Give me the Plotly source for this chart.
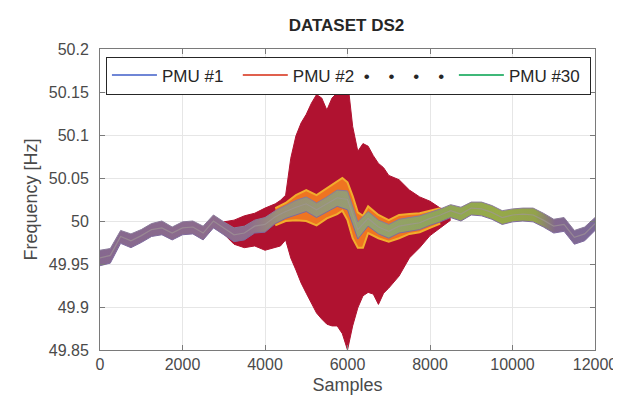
import plotly.graph_objects as go

# ---- data ----
samples = [0, 250, 500, 750, 1000, 1250, 1500, 1750, 2000, 2250, 2500, 2750,
           3000, 3250, 3500, 3750, 4000, 4250, 4500, 4750, 5000, 5250, 5500, 5750,
           6000, 6250, 6500, 6750, 7000, 7250, 7500, 7750, 8000, 8250, 8500, 8750,
           9000, 9250, 9500, 9750, 10000, 10250, 10500, 10750, 11000, 11250, 11500,
           11750, 12000]

# centre of the bundle of the 28 "quiet" PMUs
bundle_mid = [49.957, 49.960, 49.982, 49.977, 49.983, 49.990, 49.992, 49.986, 49.992,
              49.993, 49.986, 50.000, 49.992, 49.984, 49.986, 49.994, 49.996, 50.005,
              50.011, 50.016, 50.020, 50.013, 50.020, 50.027, 50.025, 49.990, 50.003,
              49.993, 49.988, 49.994, 49.996, 49.998, 50.003, 50.007, 50.012, 50.008,
              50.015, 50.014, 50.010, 50.004, 50.007, 50.008, 50.007, 50.001, 49.994,
              49.996, 49.981, 49.985, 49.997]
bundle_hi = [49.966, 49.968, 49.989, 49.985, 49.990, 49.997, 50.000, 49.993, 49.999,
             50.000, 49.994, 50.007, 49.999, 49.992, 49.994, 50.001, 50.004, 50.012,
             50.018, 50.024, 50.028, 50.021, 50.028, 50.036, 50.035, 49.999, 50.011,
             50.001, 49.996, 50.002, 50.004, 50.006, 50.010, 50.014, 50.019, 50.016,
             50.022, 50.022, 50.018, 50.012, 50.014, 50.015, 50.015, 50.009, 50.002,
             50.004, 49.989, 49.993, 50.004]
bundle_lo = [49.948, 49.951, 49.974, 49.969, 49.975, 49.982, 49.984, 49.978, 49.984,
             49.985, 49.978, 49.992, 49.984, 49.976, 49.978, 49.986, 49.987, 49.997,
             50.003, 50.007, 50.011, 50.004, 50.011, 50.017, 50.013, 49.979, 49.994,
             49.985, 49.980, 49.986, 49.988, 49.990, 49.995, 49.999, 50.004, 50.000,
             50.007, 50.006, 50.002, 49.996, 49.999, 50.000, 49.999, 49.993, 49.986,
             49.988, 49.973, 49.977, 49.989]

# PMU #2: strongly oscillating channel, drawn as its envelope
red_samples = [3000, 3250, 3500, 3750, 4000, 4250, 4375, 4500, 4625, 4750, 4875, 5000,
               5125, 5250, 5375, 5500, 5625, 5750, 5875, 6000, 6125, 6250, 6375, 6500,
               6625, 6750, 6875, 7000, 7250, 7500, 7750, 8000, 8250, 8500]
red_hi = [49.999, 50.001, 50.006, 50.009, 50.015, 50.020, 50.024, 50.030, 50.073, 50.099,
          50.114, 50.124, 50.137, 50.147, 50.143, 50.129, 50.143, 50.149, 50.157, 50.164,
          50.110, 50.081, 50.090, 50.087, 50.076, 50.067, 50.062, 50.053, 50.048, 50.036,
          50.028, 50.023, 50.015, 50.012]
red_lo = [49.985, 49.973, 49.969, 49.971, 49.966, 49.969, 49.971, 49.978, 49.957, 49.943,
          49.928, 49.916, 49.905, 49.893, 49.886, 49.880, 49.878, 49.878, 49.869, 49.850,
          49.878, 49.899, 49.913, 49.917, 49.915, 49.903, 49.916, 49.922, 49.936, 49.957,
          49.969, 49.983, 49.992, 50.001]

# second disturbed channel (orange band)
orange_samples = [4250, 4500, 4750, 5000, 5250, 5500, 5750, 5875, 6000, 6125, 6250, 6375,
                  6500, 6750, 7000, 7250, 7500, 7750, 8000, 8250]
orange_hi = [50.015, 50.021, 50.030, 50.036, 50.030, 50.038, 50.045, 50.050, 50.045,
             50.029, 50.010, 50.006, 50.017, 50.007, 50.001, 50.007, 50.008, 50.009,
             50.012, 50.015]
orange_lo = [49.995, 50.000, 50.001, 50.000, 49.995, 50.003, 50.008, 50.012, 50.001,
             49.980, 49.969, 49.969, 49.986, 49.980, 49.976, 49.980, 49.985, 49.987,
             49.992, 49.997]

NB = "\u00a0"
DOT = "\u2022"
legend_names = ["PMU #1" + NB * 2,
                "PMU #2" + NB * 2 + (DOT + NB * 4) * 3 + DOT + NB,
                "PMU #30" + NB]
legend_colors = ["#6f86d6", "#e0604e", "#3fb878"]

CRIMSON = "#b01230"

fig = go.Figure()

# PMU #2 envelope
fig.add_trace(go.Scatter(x=red_samples, y=red_lo, mode="lines",
                         line=dict(color=CRIMSON, width=1), showlegend=False,
                         hoverinfo="skip"))
fig.add_trace(go.Scatter(x=red_samples, y=red_hi, mode="lines", fill="tonexty",
                         fillcolor=CRIMSON, line=dict(color=CRIMSON, width=1),
                         showlegend=False, hoverinfo="skip"))

# orange channel
fig.add_trace(go.Scatter(x=orange_samples, y=orange_lo, mode="lines",
                         line=dict(color="#f2ad2c", width=2), showlegend=False,
                         hoverinfo="skip"))
fig.add_trace(go.Scatter(x=orange_samples, y=orange_hi, mode="lines", fill="tonexty",
                         fillcolor="#ef7421", line=dict(color="#f2ad2c", width=2),
                         showlegend=False, hoverinfo="skip"))

# bundle of the remaining PMUs
fig.add_trace(go.Scatter(x=samples, y=bundle_lo, mode="lines",
                         line=dict(color="#7f6a9e", width=1), showlegend=False,
                         hoverinfo="skip"))
fig.add_trace(go.Scatter(
    x=samples, y=bundle_hi, mode="lines", fill="tonexty",
    fillgradient=dict(type="horizontal", colorscale=[
        [0.0, "#86688f"], [0.3, "#8e6d8c"], [0.36, "#9a8f78"], [0.55, "#95a070"],
        [0.68, "#8fa458"], [0.8, "#96aa48"], [0.88, "#93a24c"], [0.92, "#83688e"],
        [1.0, "#7c6a98"]]),
    line=dict(color="#8a7a9a", width=1), showlegend=False, hoverinfo="skip"))
fig.add_trace(go.Scatter(x=samples, y=bundle_mid, mode="lines",
                         line=dict(color="rgba(160,150,150,0.7)", width=1.2),
                         showlegend=False, hoverinfo="skip"))

# legend entries
for name, color in zip(legend_names, legend_colors):
    fig.add_trace(go.Scatter(x=[None], y=[None], mode="lines", name=name,
                             line=dict(color=color, width=2)))

axis_style = dict(
    showline=True, linecolor="#7a7a7a", linewidth=1, mirror="ticks",
    ticks="inside", ticklen=5, tickcolor="#7a7a7a",
    showgrid=True, gridcolor="#e6e6e6", gridwidth=1, zeroline=False,
    tickfont=dict(size=16, color="#4a4a4a"),
    title_font=dict(size=18, color="#4a4a4a"),
)

fig.update_layout(
    width=621, height=403,
    margin=dict(l=92, r=23, t=41, b=61),
    paper_bgcolor="white", plot_bgcolor="white",
    font=dict(family="Liberation Sans, Arial, sans-serif"),
    title=dict(text="<b>DATASET DS2</b>", x=0.545, xanchor="center",
               y=0.958, yanchor="middle", font=dict(size=17, color="#262626")),
    xaxis=dict(range=[0, 12000], dtick=2000, tick0=0, tickformat="d",
               title=dict(text="Samples", standoff=6), **axis_style),
    yaxis=dict(range=[49.85, 50.2], dtick=0.05, tick0=49.85, ticklabelstandoff=7,
               title=dict(text="Frequency [Hz]", standoff=6), **axis_style),
    legend=dict(orientation="h", traceorder="normal", x=0.012, y=0.975,
                xanchor="left", yanchor="top",
                bgcolor="white", bordercolor="#262626", borderwidth=1,
                itemwidth=45, font=dict(size=17, color="#262626")),
    showlegend=True,
)

fig.write_html("out.html")
